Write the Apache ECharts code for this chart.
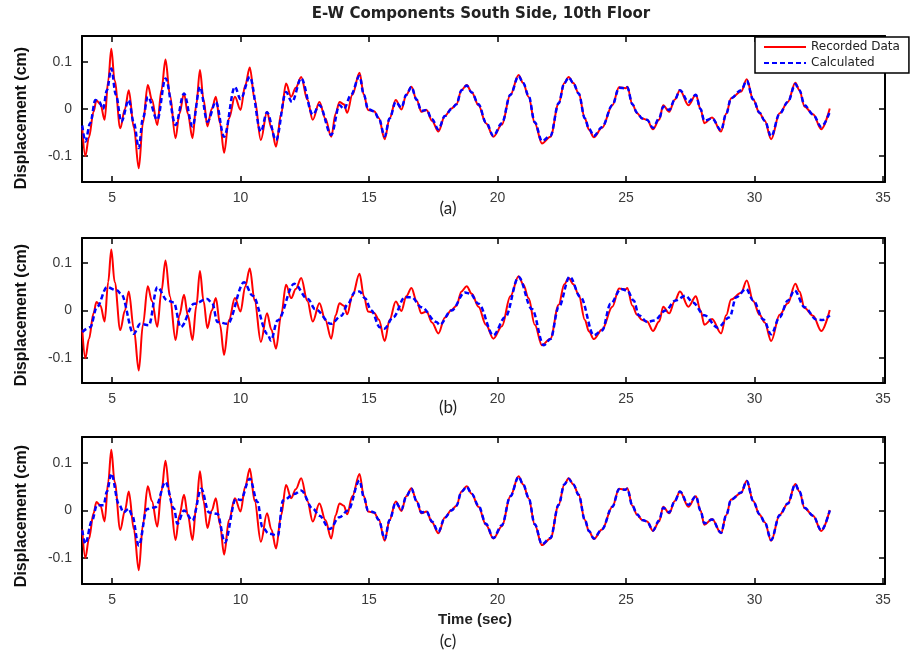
<!DOCTYPE html>
<html>
<head>
<meta charset="utf-8">
<script src="https://cdn.jsdelivr.net/npm/echarts@6/dist/echarts.min.js"></script>
<style>
html,body{margin:0;padding:0;background:#fff;}
#chart{width:919px;height:660px;}
</style>
</head>
<body>
<div id="chart"></div>
<script>
// ---- data ----
const TITLE = 'E-W Components South Side, 10th Floor';
const X_TICKS = [5, 10, 15, 20, 25, 30, 35];
const Y_TICKS = [-0.1, 0, 0.1];
const PANEL_LABELS = ['(a)', '(b)', '(c)'];

// Recorded data (same in every panel)
const T_REC = [3.84,3.96,4.10,4.28,4.39,4.55,4.71,4.85,4.97,5.10,5.32,5.50,5.65,5.85,6.04,6.20,6.39,6.55,6.76,6.92,7.08,7.25,7.47,7.62,7.80,7.95,8.13,8.28,8.42,8.56,8.71,8.88,9.04,9.20,9.36,9.55,9.78,10.00,10.18,10.36,10.55,10.79,11.03,11.20,11.38,11.58,11.77,11.97,12.15,12.36,12.60,12.81,13.07,13.30,13.53,13.70,13.85,14.02,14.15,14.35,14.63,14.80,14.96,15.20,15.38,15.61,15.80,16.04,16.26,16.45,16.65,16.85,17.04,17.24,17.45,17.70,17.95,18.21,18.40,18.60,18.80,19.00,19.26,19.55,19.84,20.17,20.50,20.82,21.00,21.21,21.45,21.73,22.06,22.38,22.60,22.77,22.95,23.16,23.40,23.56,23.75,24.07,24.47,24.73,24.99,25.05,25.25,25.43,25.63,25.82,26.05,26.29,26.45,26.68,26.90,27.10,27.43,27.72,27.90,28.05,28.35,28.70,28.90,29.09,29.48,29.70,29.95,30.20,30.40,30.65,30.98,31.30,31.59,31.75,31.95,32.28,32.60,32.93];
const REC = [-0.040,-0.100,-0.060,-0.006,0.018,0.010,-0.023,0.060,0.128,0.060,-0.041,0.000,0.040,-0.040,-0.126,-0.030,0.051,0.020,-0.034,0.040,0.105,0.030,-0.062,-0.010,0.033,-0.010,-0.062,0.010,0.083,0.020,-0.037,0.000,0.026,-0.030,-0.093,-0.020,0.026,-0.002,0.050,0.088,0.020,-0.066,-0.006,-0.040,-0.080,-0.010,0.054,0.026,0.045,0.068,0.020,-0.023,0.015,-0.020,-0.059,-0.010,0.015,0.010,-0.008,0.030,0.077,0.030,-0.002,-0.005,-0.019,-0.064,-0.020,0.019,-0.001,0.030,0.047,0.020,-0.006,-0.002,-0.025,-0.048,-0.015,0.001,0.010,0.040,0.051,0.035,0.008,-0.030,-0.059,-0.033,0.030,0.072,0.055,0.026,-0.030,-0.073,-0.059,0.012,0.055,0.068,0.055,0.033,-0.020,-0.044,-0.060,-0.040,0.008,0.046,0.044,0.047,0.010,-0.009,-0.020,-0.023,-0.043,-0.023,0.008,-0.006,0.020,0.040,0.008,0.030,0.000,-0.030,-0.018,-0.048,-0.010,0.023,0.037,0.063,0.020,-0.009,-0.025,-0.064,-0.009,0.015,0.056,0.040,0.005,-0.011,-0.043,0.001];

// Calculated, panel (a)
const T_CALC_A = [3.84,3.96,4.15,4.35,4.50,4.65,4.80,4.97,5.15,5.36,5.65,5.85,6.04,6.20,6.39,6.76,7.08,7.47,7.80,8.13,8.42,8.71,9.04,9.36,9.78,10.00,10.36,10.79,11.03,11.38,11.77,12.00,12.36,12.81,13.07,13.53,13.85,14.02,14.30,14.63,14.80,14.96,15.20,15.38,15.61,15.80,16.04,16.26,16.45,16.65,16.85,17.04,17.24,17.45,17.70,17.95,18.21,18.40,18.60,18.80,19.00,19.26,19.55,19.84,20.17,20.50,20.82,21.00,21.21,21.45,21.73,22.06,22.38,22.60,22.77,22.95,23.16,23.40,23.56,23.75,24.07,24.47,24.73,24.99,25.05,25.25,25.43,25.63,25.82,26.05,26.29,26.45,26.68,26.90,27.10,27.43,27.72,27.90,28.05,28.35,28.70,28.90,29.09,29.48,29.70,29.95,30.20,30.40,30.65,30.98,31.30,31.59,31.75,31.95,32.28,32.60,32.93];
const CALC_A = [-0.035,-0.069,-0.030,0.019,0.015,0.000,0.040,0.086,0.030,-0.027,0.019,-0.030,-0.083,-0.020,0.026,-0.023,0.065,-0.034,0.033,-0.037,0.047,-0.027,0.015,-0.059,0.047,0.021,0.068,-0.048,-0.007,-0.066,0.036,0.015,0.065,-0.012,0.008,-0.055,0.008,0.000,0.030,0.070,0.030,0.000,-0.005,-0.020,-0.058,-0.020,0.015,0.003,0.030,0.047,0.020,-0.004,-0.002,-0.022,-0.043,-0.015,0.000,0.010,0.040,0.050,0.035,0.010,-0.028,-0.057,-0.030,0.030,0.070,0.055,0.028,-0.028,-0.068,-0.057,0.012,0.055,0.067,0.055,0.033,-0.020,-0.042,-0.057,-0.038,0.008,0.045,0.044,0.046,0.010,-0.008,-0.020,-0.023,-0.040,-0.020,0.005,-0.002,0.020,0.040,0.015,0.030,0.000,-0.025,-0.020,-0.045,-0.010,0.023,0.040,0.060,0.020,-0.008,-0.025,-0.058,-0.010,0.015,0.053,0.040,0.008,-0.012,-0.038,-0.006];

// Calculated, panel (b)
const T_CALC_B = [3.84,4.15,4.41,4.80,5.20,5.35,5.84,6.10,6.43,6.76,7.15,7.40,7.67,8.19,8.71,8.90,9.10,9.49,10.14,10.47,11.05,11.18,11.44,12.09,12.62,12.90,13.53,13.92,14.18,14.44,14.63,14.85,15.09,15.42,15.60,15.94,16.40,16.65,17.04,17.62,17.75,18.21,18.73,18.95,19.26,19.84,20.30,20.82,21.34,21.80,22.06,22.38,22.81,23.23,23.75,24.07,24.40,24.80,25.05,25.30,25.50,25.82,26.10,26.54,26.93,27.32,27.60,28.05,28.57,29.03,29.29,29.68,29.95,30.35,30.65,30.98,31.30,31.56,31.95,32.41,32.65,32.93];
const CALC_B = [-0.045,-0.035,0.007,0.049,0.042,0.035,-0.049,-0.028,-0.031,0.049,0.021,0.017,-0.035,0.014,0.024,0.015,-0.024,-0.028,0.059,0.031,-0.049,-0.063,-0.021,0.056,0.024,0.003,-0.028,-0.011,0.014,0.038,0.040,0.025,0.000,-0.035,-0.038,-0.014,0.028,0.028,0.007,-0.024,-0.030,0.000,0.038,0.035,0.014,-0.052,-0.014,0.070,0.003,-0.073,-0.060,0.007,0.071,0.028,-0.052,-0.042,0.014,0.045,0.042,0.021,-0.010,-0.024,-0.021,0.000,0.021,0.031,0.017,-0.010,-0.036,-0.014,0.028,0.045,0.021,-0.019,-0.050,-0.014,0.021,0.042,0.007,-0.019,-0.020,-0.010];

// Calculated, panel (c)
const T_CALC_C = [3.84,3.96,4.22,4.41,4.67,4.80,4.97,5.26,5.45,5.65,5.78,6.04,6.36,6.69,7.08,7.41,7.54,7.80,8.13,8.47,8.77,9.10,9.39,9.82,10.00,10.36,10.66,10.85,11.10,11.45,11.65,12.10,12.36,12.81,13.07,13.47,13.85,14.18,14.63,14.80,14.96,15.20,15.38,15.61,15.80,16.04,16.26,16.45,16.65,16.85,17.04,17.24,17.45,17.70,17.95,18.21,18.40,18.60,18.80,19.00,19.26,19.55,19.84,20.17,20.50,20.82,21.00,21.21,21.45,21.73,22.06,22.38,22.60,22.77,22.95,23.16,23.40,23.56,23.75,24.07,24.47,24.73,24.99,25.05,25.25,25.43,25.63,25.82,26.05,26.29,26.45,26.68,26.90,27.10,27.43,27.72,27.90,28.05,28.35,28.70,28.90,29.09,29.48,29.70,29.95,30.20,30.40,30.65,30.98,31.30,31.59,31.75,31.95,32.28,32.60,32.93];
const CALC_C = [-0.042,-0.070,-0.021,0.011,0.011,0.040,0.078,0.014,-0.004,0.004,-0.010,-0.074,0.003,0.007,0.060,0.004,-0.028,0.000,-0.021,0.046,-0.004,-0.007,-0.067,0.025,0.022,0.067,0.018,-0.035,-0.049,-0.053,0.021,0.035,0.042,0.004,-0.011,-0.039,-0.014,0.000,0.063,0.028,0.000,-0.004,-0.020,-0.060,-0.020,0.017,0.002,0.030,0.046,0.020,-0.004,-0.002,-0.023,-0.045,-0.015,0.000,0.010,0.040,0.050,0.035,0.010,-0.028,-0.058,-0.031,0.030,0.071,0.055,0.027,-0.029,-0.071,-0.058,0.012,0.055,0.067,0.055,0.033,-0.020,-0.043,-0.059,-0.039,0.008,0.045,0.044,0.046,0.010,-0.008,-0.020,-0.023,-0.042,-0.021,0.006,-0.004,0.020,0.040,0.012,0.030,0.000,-0.027,-0.019,-0.047,-0.010,0.023,0.038,0.062,0.020,-0.008,-0.025,-0.062,-0.010,0.015,0.055,0.040,0.006,-0.011,-0.042,0.000];

function pairs(t, v) { return t.map((x, i) => [x, v[i]]); }

const SERIES_NAMES = ['Recorded Data', 'Calculated'];
const CALCS = [[T_CALC_A, CALC_A], [T_CALC_B, CALC_B], [T_CALC_C, CALC_C]];

// ---- layout ----
const grids = [
  { left: 82, right: 34, top: 36, height: 146 },
  { left: 82, right: 34, top: 238, height: 145 },
  { left: 82, right: 34, top: 437, height: 147 }
];
const yRanges = [[-0.155, 0.155], [-0.152, 0.152], [-0.155, 0.155]];
const X_MIN = 3.83, X_MAX = 35.08;

const labelFont = { fontFamily: 'Liberation Sans, Arial, sans-serif', fontSize: 14, color: '#3a3a3a' };
const lineStyleAxis = { color: '#000', width: 2 };

const xAxes = [], yAxes = [], series = [];
grids.forEach((g, i) => {
  xAxes.push({
    type: 'value', gridIndex: i, min: X_MIN, max: X_MAX, position: 'bottom',
    axisLine: { show: true, onZero: false, lineStyle: lineStyleAxis },
    axisTick: { show: true, inside: true, length: 6, customValues: X_TICKS, lineStyle: { color: '#000', width: 1.5 } },
    axisLabel: Object.assign({ show: true, margin: 9, customValues: X_TICKS, formatter: v => String(v) }, labelFont),
    splitLine: { show: false }
  });
  xAxes.push({
    type: 'value', gridIndex: i, min: X_MIN, max: X_MAX, position: 'top',
    axisLine: { show: true, onZero: false, lineStyle: lineStyleAxis },
    axisTick: { show: true, inside: true, length: 6, customValues: X_TICKS, lineStyle: { color: '#000', width: 1.5 } },
    axisLabel: { show: false },
    splitLine: { show: false }
  });
  yAxes.push({
    type: 'value', gridIndex: i, min: yRanges[i][0], max: yRanges[i][1], position: 'left',
    axisLine: { show: true, onZero: false, lineStyle: lineStyleAxis },
    axisTick: { show: true, inside: true, length: 6, customValues: Y_TICKS, lineStyle: { color: '#000', width: 1.5 } },
    axisLabel: Object.assign({ show: true, margin: 10, customValues: Y_TICKS, formatter: v => (Math.abs(v) < 1e-9 ? '0' : v.toFixed(1)) }, labelFont),
    splitLine: { show: false }
  });
  yAxes.push({
    type: 'value', gridIndex: i, min: yRanges[i][0], max: yRanges[i][1], position: 'right',
    axisLine: { show: true, onZero: false, lineStyle: lineStyleAxis },
    axisTick: { show: true, inside: true, length: 6, customValues: Y_TICKS, lineStyle: { color: '#000', width: 1.5 } },
    axisLabel: { show: false },
    splitLine: { show: false }
  });
  series.push({
    name: SERIES_NAMES[0], type: 'line', xAxisIndex: 2 * i, yAxisIndex: 2 * i,
    data: pairs(T_REC, REC), symbol: 'none', smooth: 0.35, smoothMonotone: 'x',
    lineStyle: { color: '#ff0000', width: 2 }, itemStyle: { color: '#ff0000' }, z: 2
  });
  series.push({
    name: SERIES_NAMES[1], type: 'line', xAxisIndex: 2 * i, yAxisIndex: 2 * i,
    data: pairs(CALCS[i][0], CALCS[i][1]), symbol: 'none', smooth: 0.35, smoothMonotone: 'x',
    lineStyle: { color: '#0000ff', width: 2.5, type: [5, 3] }, itemStyle: { color: '#0000ff' }, z: 3
  });
});

const graphics = [
  { type: 'text', x: 481, y: 14, style: { text: TITLE, font: 'bold 15px "DejaVu Sans", sans-serif', fill: '#222', align: 'center', verticalAlign: 'middle' } }
];
const yLabelCenters = [118, 315, 516];
yLabelCenters.forEach(cy => graphics.push({
  type: 'text', x: 22, y: cy, rotation: Math.PI / 2,
  style: { text: 'Displacement (cm)', font: 'bold 16px "Liberation Sans", Arial, sans-serif', fill: '#111', align: 'center', verticalAlign: 'middle' }
}));
const panelLabelY = [209, 408, 642];
PANEL_LABELS.forEach((t, i) => graphics.push({
  type: 'text', x: 448, y: panelLabelY[i],
  style: { text: t, font: '17px Lato, "Open Sans", sans-serif', fill: '#222', align: 'center', verticalAlign: 'middle' }
}));
graphics.push({ type: 'text', x: 475, y: 620, style: { text: 'Time (sec)', font: 'bold 15px "Liberation Sans", Arial, sans-serif', fill: '#222', align: 'center', verticalAlign: 'middle' } });

const chart = echarts.init(document.getElementById('chart'), null, { renderer: 'canvas' });
chart.setOption({
  animation: false,
  backgroundColor: '#fff',
  grid: grids,
  xAxis: xAxes,
  yAxis: yAxes,
  series: series,
  legend: {
    data: SERIES_NAMES, left: 755, top: 37, orient: 'vertical',
    itemWidth: 42, itemHeight: 14, itemGap: 4, padding: [4, 9, 4, 8],
    itemStyle: { opacity: 0 },
    borderColor: '#000', borderWidth: 1.5, borderRadius: 0, backgroundColor: '#fff',
    textStyle: { fontFamily: '"DejaVu Sans", sans-serif', fontSize: 12, color: '#222' },
    selectedMode: false, z: 10
  },
  graphic: graphics
});
</script>
</body>
</html>
